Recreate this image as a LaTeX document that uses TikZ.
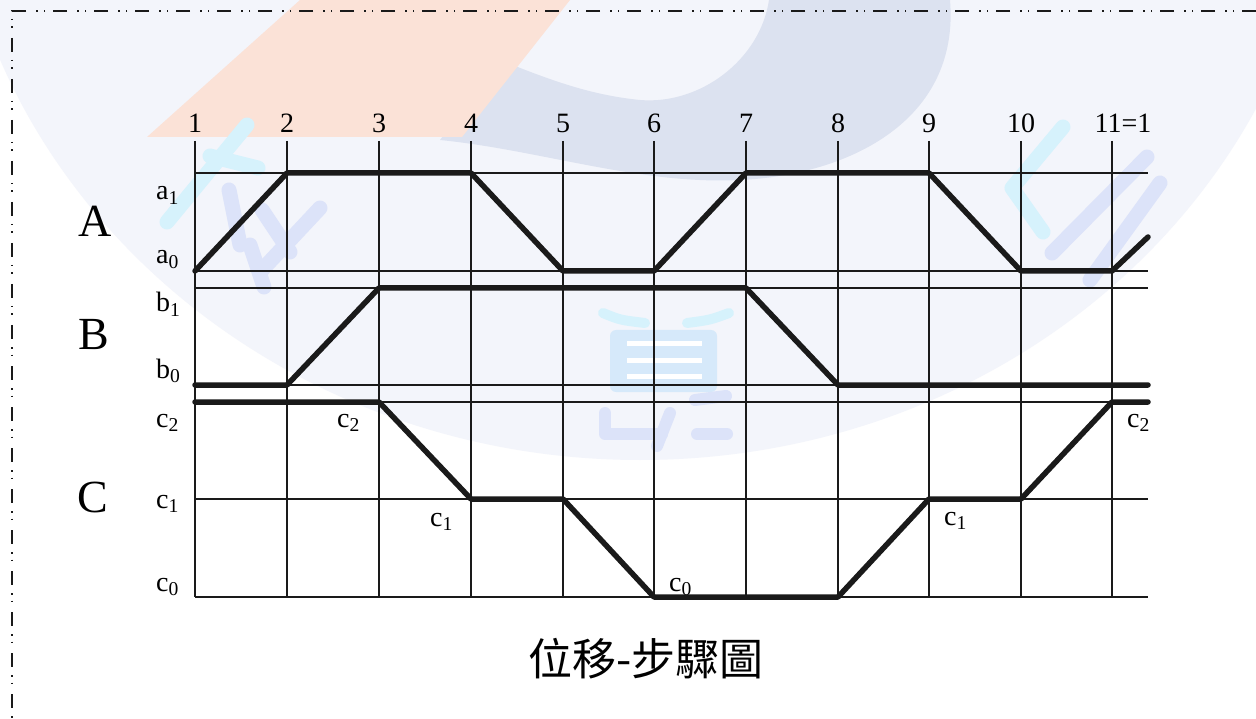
\documentclass[tikz,border=0pt]{standalone}
\usepackage{fontspec}
\setmainfont{Liberation Serif}
\newfontfamily\cjk{Noto Sans CJK TC}
\definecolor{wmdisc}{HTML}{F3F5FB}
\definecolor{wmband}{HTML}{DCE2F0}
\definecolor{wmpeach}{HTML}{FBE2D7}
\definecolor{wmcyan}{HTML}{D6F2FC}
\definecolor{wmlav}{HTML}{DCE3F9}
\definecolor{wmbox}{HTML}{D6E9FA}
\definecolor{ink}{HTML}{1A1A1A}
\begin{document}
\begin{tikzpicture}[x=1pt,y=-1pt,
  gridline/.style={line width=1.3pt,draw=ink},
  profile/.style={line width=5.5pt,draw=ink,line cap=round,line join=round},
  border/.style={line width=1.5pt,draw=ink,dash pattern=on 14pt off 8pt on 1.5pt off 6pt on 1.5pt off 10pt},
  steplbl/.style={inner sep=0pt,anchor=base,font=\fontsize{28}{30}\selectfont},
  lvl/.style={inner sep=0pt,anchor=base west,font=\fontsize{28}{30}\selectfont},
  big/.style={inner sep=0pt,anchor=base west,font=\fontsize{46}{50}\selectfont},
  wmstroke/.style={line width=15pt,line cap=round,line join=round}
]
\useasboundingbox (0,0) rectangle (1256,719);
\fill[white] (0,0) rectangle (1256,719);
% ---- watermark ----
\begin{scope}
\clip (0,0) rectangle (1256,719);
\fill[wmdisc] (640,-180) ellipse [x radius=690pt, y radius=640pt];
\fill[wmband] (440,140) .. controls (540,150) and (640,185) .. (740,180)
  .. controls (850,175) and (960,120) .. (950,0) -- (769,0)
  .. controls (760,60) and (700,105) .. (640,100)
  .. controls (590,95) and (550,80) .. (500,60) -- cycle;
\fill[wmpeach] (147,137) -- (462,137) -- (570,0) -- (300,0) -- cycle;
% left glyph
\draw[wmstroke,wmcyan] (247,125) -- (167,222);
\draw[wmstroke,wmcyan] (210,156) -- (258,168);
\draw[wmstroke,wmlav] (229,190) -- (240,245);
\draw[wmstroke,wmlav] (262,210) -- (290,252);
\draw[wmstroke,wmlav] (320,208) -- (262,270);
\draw[wmstroke,wmlav] (250,245) -- (264,287);
% right glyph
\draw[wmstroke,wmcyan] (1063,127) -- (1012,188) -- (1043,232);
\draw[wmstroke,wmlav] (1147,157) -- (1052,253);
\draw[wmstroke,wmlav] (1160,183) -- (1090,280);
% centre glyph
\draw[line width=10pt,line cap=round,wmcyan] (603,313) .. controls (620,320) .. (645,323);
\draw[line width=10pt,line cap=round,wmcyan] (729,313) .. controls (710,320) .. (687,323);
\fill[wmbox,rounded corners=6pt] (610,330) rectangle (717,392);
\fill[white] (627,341) rectangle (702,346);
\fill[white] (627,358) rectangle (702,363);
\fill[white] (627,374) rectangle (702,379);
\draw[line width=12pt,line cap=round,line join=round,wmlav] (605,413) -- (605,434) -- (662,434);
\draw[line width=12pt,line cap=round,wmlav] (670,413) -- (657,446);
\draw[line width=12pt,line cap=round,wmlav] (695,400) -- (726,396);
\draw[line width=12pt,line cap=round,wmlav] (697,434) -- (727,434);
\end{scope}
% ---- border ----
\coordinate (BTL) at (12,11);
\coordinate (BTR) at (1256,11);
\coordinate (BBL) at (12,719);
\draw[border] (BTR) -- (BTL) -- (BBL);
% ---- grid coordinates ----
\foreach \i/\x in {1/195,2/287,3/379,4/471,5/563,6/654,7/746,8/838,9/929,10/1021,11/1112}
  \coordinate (X\i) at (\x,0);
\coordinate (XE) at (1148,0);
\coordinate (Ytop) at (0,141);
\foreach \n/\y in {a1/173,a0/271,b1/288,b0/385,c2/402,c1/499,c0/597}
  \coordinate (Y\n) at (0,\y);
% vertical lines
\foreach \i in {1,...,11}
  \draw[gridline] (X\i |- Ytop) -- (X\i |- Yc0);
% horizontal lines
\foreach \n in {a1,a0,b1,b0,c2,c1,c0}
  \draw[gridline] (X1 |- Y\n) -- (XE |- Y\n);
% step numbers
\foreach \i/\t in {1/1,2/2,3/3,4/4,5/5,6/6,7/7,8/8,9/9,10/10}
  \node[steplbl] (S\i) at ([yshift=8pt]X\i |- Ytop) {\t};
\node[steplbl] (S11) at ([xshift=11pt,yshift=8pt]X11 |- Ytop) {11=1};
% level labels
\node[lvl] (La1) at (156,200) {a\textsubscript{1}};
\node[lvl] (La0) at (156,264) {a\textsubscript{0}};
\node[lvl] (Lb1) at (156,312) {b\textsubscript{1}};
\node[lvl] (Lb0) at (156,378) {b\textsubscript{0}};
\node[lvl] (Lc2) at (156,427) {c\textsubscript{2}};
\node[lvl] (Lc1) at (156,508) {c\textsubscript{1}};
\node[lvl] (Lc0) at (156,591) {c\textsubscript{0}};
\node[big] (LA) at (78,237) {A};
\node[big] (LB) at (78,350) {B};
\node[big] (LC) at (77,512) {C};
% inner c labels
\node[lvl] (Ic2) at (337,427) {c\textsubscript{2}};
\node[lvl] (Ic1) at (430,526) {c\textsubscript{1}};
\node[lvl] (Ic0) at (669,591) {c\textsubscript{0}};
\node[lvl] (Jc1) at (944,525) {c\textsubscript{1}};
\node[lvl] (Jc2) at (1127,427) {c\textsubscript{2}};
% ---- profiles ----
\coordinate (Aend) at (1148,237);
\draw[profile] (X1|-Ya0) -- (X2|-Ya1) -- (X4|-Ya1) -- (X5|-Ya0) -- (X6|-Ya0)
  -- (X7|-Ya1) -- (X9|-Ya1) -- (X10|-Ya0) -- (X11|-Ya0) -- (Aend);
\draw[profile] (X1|-Yb0) -- (X2|-Yb0) -- (X3|-Yb1) -- (X7|-Yb1) -- (X8|-Yb0) -- (XE|-Yb0);
\draw[profile] (X1|-Yc2) -- (X3|-Yc2) -- (X4|-Yc1) -- (X5|-Yc1) -- (X6|-Yc0)
  -- (X8|-Yc0) -- (X9|-Yc1) -- (X10|-Yc1) -- (X11|-Yc2) -- (XE|-Yc2);
% ---- title ----
\node[inner sep=0pt,font=\cjk\fontsize{44}{50}\selectfont] (T) at (646,659) {位移-步驟圖};
\end{tikzpicture}
\end{document}
